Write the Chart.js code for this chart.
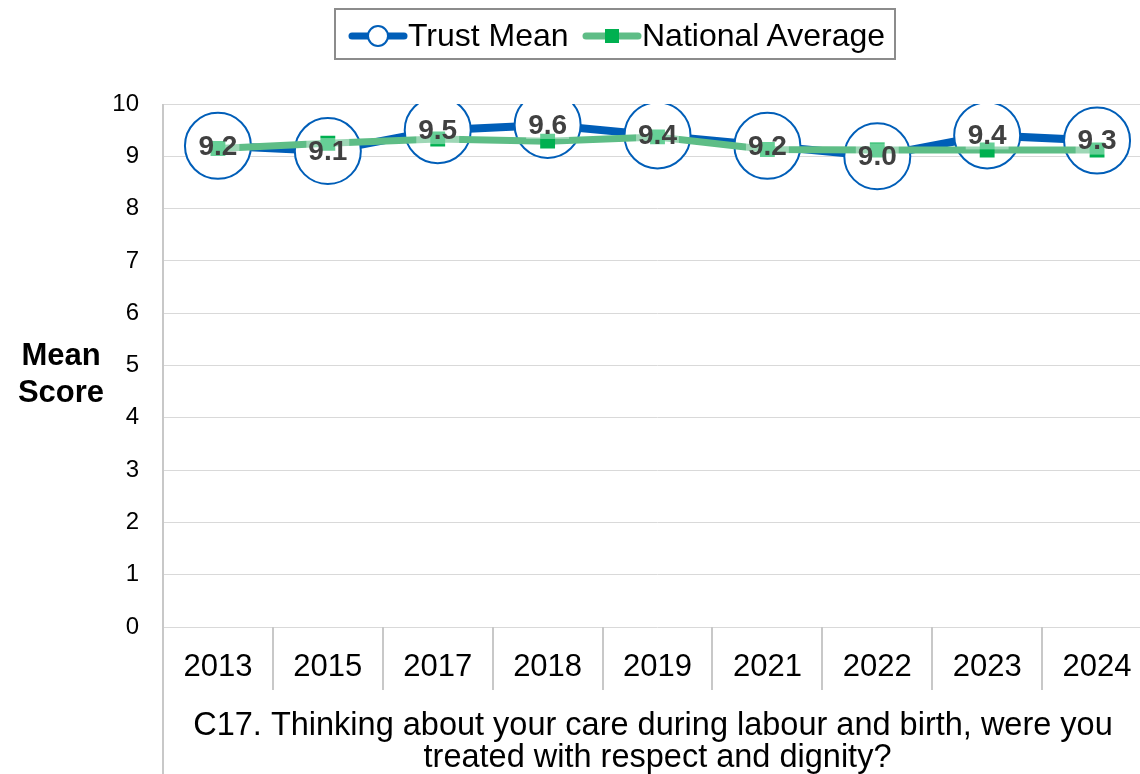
<!DOCTYPE html>
<html>
<head>
<meta charset="utf-8">
<title>C17 Mean Score</title>
<script src="https://cdn.jsdelivr.net/npm/chart.js@4.4.1/dist/chart.umd.min.js"></script>
<style>
  html, body { margin: 0; padding: 0; background: #fff; overflow: hidden; }
  #wrap { position: relative; width: 1187px; height: 774px; }
  #legend {
    position: absolute; left: 334px; top: 8px; width: 558px; height: 48px;
    border: 2px solid #8c8c8c; font-family: "Liberation Sans", Arial, sans-serif;
    font-size: 32px; color: #000;
  }
  .item { position: absolute; top: 0; height: 48px; line-height: 50px; white-space: nowrap; }
  .item canvas { position: absolute; left: 0; top: 14px; }
  .item span { position: absolute; left: 60px; top: 0; }
</style>
</head>
<body>
<div id="wrap">
  <canvas id="meanChart" width="1187" height="774"></canvas>
  <div id="legend"></div>
</div>
<script>
// Años de la encuesta y puntuaciones
const years = ['2013', '2015', '2017', '2018', '2019', '2021', '2022', '2023', '2024'];
const trustMean = [9.2, 9.1, 9.5, 9.6, 9.4, 9.2, 9.0, 9.4, 9.3];
const nationalAverage = [9.15, 9.25, 9.33, 9.29, 9.37, 9.13, 9.12, 9.12, 9.12];
const seriesNames = ['Trust Mean', 'National Average'];
const yTicks = [0, 1, 2, 3, 4, 5, 6, 7, 8, 9, 10];
const xTitle = ['C17. Thinking about your care during labour and birth, were you ', 'treated with respect and dignity?'];
const yTitle = ['Mean', 'Score'];

const FONT = '"Liberation Sans", Arial, sans-serif';
const BLUE = '#005EB8';
const GREEN_LINE = '#5EBD86';
const GREEN_MARK = '#00B050';

// Etiquetas de valor sobre los círculos de la serie Trust Mean
const valueLabels = {
    id: 'valueLabels',
    afterDatasetsDraw(chart) {
        const ctx = chart.ctx;
        const meta = chart.getDatasetMeta(0);
        ctx.save();
        ctx.font = 'bold 28px ' + FONT;
        ctx.textAlign = 'center';
        ctx.textBaseline = 'middle';
        meta.data.forEach((pt, i) => {
            const txt = trustMean[i].toFixed(1);
            const w = ctx.measureText(txt).width;
            ctx.fillStyle = 'rgba(255,255,255,0.4)';
            ctx.fillRect(pt.x - w / 2 - 2, pt.y - 13, w + 4, 27);
            ctx.fillStyle = '#404040';
            ctx.fillText(txt, pt.x, pt.y + 1);
        });
        ctx.restore();
    }
};

// Líneas del eje: borde izquierdo, separadores de categorías y título del eje Y
const axisDecor = {
    id: 'axisDecor',
    afterDraw(chart) {
        const ctx = chart.ctx;
        const area = chart.chartArea;
        const x = chart.scales.x;
        ctx.save();
        ctx.strokeStyle = '#c8c8c8';
        ctx.lineWidth = 2;
        ctx.beginPath();
        ctx.moveTo(area.left, area.top);
        ctx.lineTo(area.left, chart.height);
        for (let i = 1; i < years.length; i++) {
            const bx = Math.round((x.getPixelForValue(i - 1) + x.getPixelForValue(i)) / 2);
            ctx.moveTo(bx, area.bottom);
            ctx.lineTo(bx, area.bottom + 63);
        }
        ctx.stroke();

        ctx.fillStyle = '#000';
        ctx.font = 'bold 31px ' + FONT;
        ctx.textAlign = 'center';
        ctx.textBaseline = 'middle';
        const midY = (area.top + area.bottom) / 2 + 9;
        ctx.fillText(yTitle[0], 61, midY - 18);
        ctx.fillText(yTitle[1], 61, midY + 19);
        ctx.restore();
    }
};

const ctx = document.getElementById('meanChart').getContext('2d');
const meanChart = new Chart(ctx, {
    type: 'line',
    data: {
        labels: years,
        datasets: [{
            label: seriesNames[0],
            data: trustMean,
            borderColor: BLUE,
            borderWidth: 8,
            pointRadius: 33,
            pointHoverRadius: 33,
            pointBorderWidth: 2,
            pointBorderColor: BLUE,
            pointBackgroundColor: '#fff',
            order: 2
        }, {
            label: seriesNames[1],
            data: nationalAverage,
            borderColor: GREEN_LINE,
            borderWidth: 7,
            pointStyle: 'rect',
            pointRadius: 10.5,
            pointHoverRadius: 10.5,
            pointBorderWidth: 0,
            pointBackgroundColor: GREEN_MARK,
            order: 1
        }]
    },
    options: {
        responsive: false,
        animation: false,
        layout: { padding: { top: 104, right: 0, bottom: 0, left: 0 } },
        plugins: { legend: { display: false }, tooltip: { enabled: false } },
        scales: {
            x: {
                offset: true,
                afterFit: (scale) => { scale.height = 147; },
                grid: { display: false },
                border: { display: false },
                ticks: { color: '#000', font: { family: FONT, size: 31 }, padding: 14, maxRotation: 0 },
                title: {
                    display: true,
                    text: xTitle,
                    color: '#000',
                    font: { family: FONT, size: 32.5, lineHeight: '32px' },
                    padding: { top: 0, bottom: 0 }
                }
            },
            y: {
                min: 0,
                max: 10,
                afterFit: (scale) => { scale.width = 163; },
                afterBuildTicks: (scale) => { scale.ticks = yTicks.map(v => ({ value: v })); },
                grid: { color: '#d9d9d9', lineWidth: 1, drawTicks: false },
                border: { display: false },
                ticks: { color: '#000', font: { family: FONT, size: 24 }, padding: 24 }
            }
        }
    },
    plugins: [valueLabels, axisDecor]
});

// Leyenda con recuadro, construida desde los datasets
const legend = document.getElementById('legend');
const legendLeft = [12, 246];
meanChart.data.datasets.forEach((ds, i) => {
    const item = document.createElement('div');
    item.className = 'item';
    item.style.left = legendLeft[i] + 'px';
    const c = document.createElement('canvas');
    c.width = 60; c.height = 24;
    const g = c.getContext('2d');
    g.strokeStyle = ds.borderColor;
    g.lineWidth = 7;
    g.lineCap = 'round';
    g.beginPath(); g.moveTo(4, 12); g.lineTo(56, 12); g.stroke();
    if (i === 0) {
        g.fillStyle = '#fff';
        g.strokeStyle = ds.pointBorderColor;
        g.lineWidth = 2;
        g.beginPath(); g.arc(30, 12, 10, 0, Math.PI * 2); g.fill(); g.stroke();
    } else {
        g.fillStyle = ds.pointBackgroundColor;
        g.fillRect(23, 5, 14, 14);
    }
    const label = document.createElement('span');
    label.textContent = ds.label;
    item.appendChild(c);
    item.appendChild(label);
    legend.appendChild(item);
});
</script>
</body>
</html>
